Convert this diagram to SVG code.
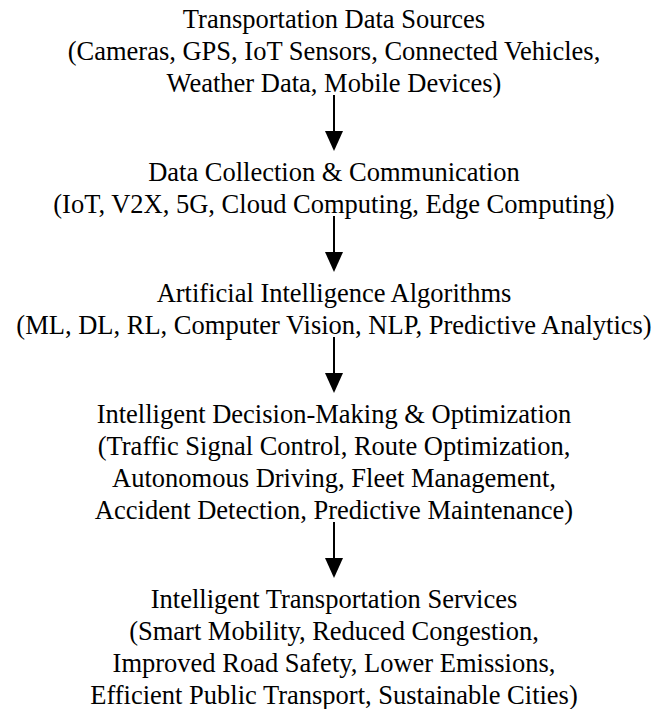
<svg xmlns="http://www.w3.org/2000/svg" width="660" height="709" viewBox="0 0 660 709">
<style>
  text { font-family: "Liberation Serif", "Times New Roman", serif; font-size: 26.5px; fill: #000; text-anchor: middle; }
  .conn { stroke: #000; stroke-width: 2; fill: none; }
</style>
<defs>
  <marker id="arrow" markerUnits="userSpaceOnUse" markerWidth="20" markerHeight="18" viewBox="0 -9 20 18" refX="0" refY="0" orient="auto" overflow="visible">
    <path d="M0,-9 L20,0 L0,9 z" fill="#000"/>
  </marker>
</defs>
<rect width="660" height="709" fill="#fff"/>
<g id="node-sources">
  <text x="334" y="28">Transportation Data Sources</text>
  <text x="334" y="60">(Cameras, GPS, IoT Sensors, Connected Vehicles,</text>
  <text x="334" y="92">Weather Data, Mobile Devices)</text>
</g>
<g id="node-collection">
  <text x="334" y="181">Data Collection &amp; Communication</text>
  <text x="334" y="213">(IoT, V2X, 5G, Cloud Computing, Edge Computing)</text>
</g>
<g id="node-ai">
  <text x="334" y="302">Artificial Intelligence Algorithms</text>
  <text x="334" y="334">(ML, DL, RL, Computer Vision, NLP, Predictive Analytics)</text>
</g>
<g id="node-decision">
  <text x="334" y="423">Intelligent Decision-Making &amp; Optimization</text>
  <text x="334" y="455">(Traffic Signal Control, Route Optimization,</text>
  <text x="334" y="487">Autonomous Driving, Fleet Management,</text>
  <text x="334" y="519">Accident Detection, Predictive Maintenance)</text>
</g>
<g id="node-services">
  <text x="334" y="608">Intelligent Transportation Services</text>
  <text x="334" y="640">(Smart Mobility, Reduced Congestion,</text>
  <text x="334" y="672">Improved Road Safety, Lower Emissions,</text>
  <text x="334" y="704">Efficient Public Transport, Sustainable Cities)</text>
</g>
<g id="connectors">
  <line class="conn" x1="334" y1="95" x2="334" y2="131" marker-end="url(#arrow)"/>
  <line class="conn" x1="334" y1="216" x2="334" y2="252" marker-end="url(#arrow)"/>
  <line class="conn" x1="334" y1="337" x2="334" y2="373" marker-end="url(#arrow)"/>
  <line class="conn" x1="334" y1="522" x2="334" y2="558" marker-end="url(#arrow)"/>
</g>
</svg>
